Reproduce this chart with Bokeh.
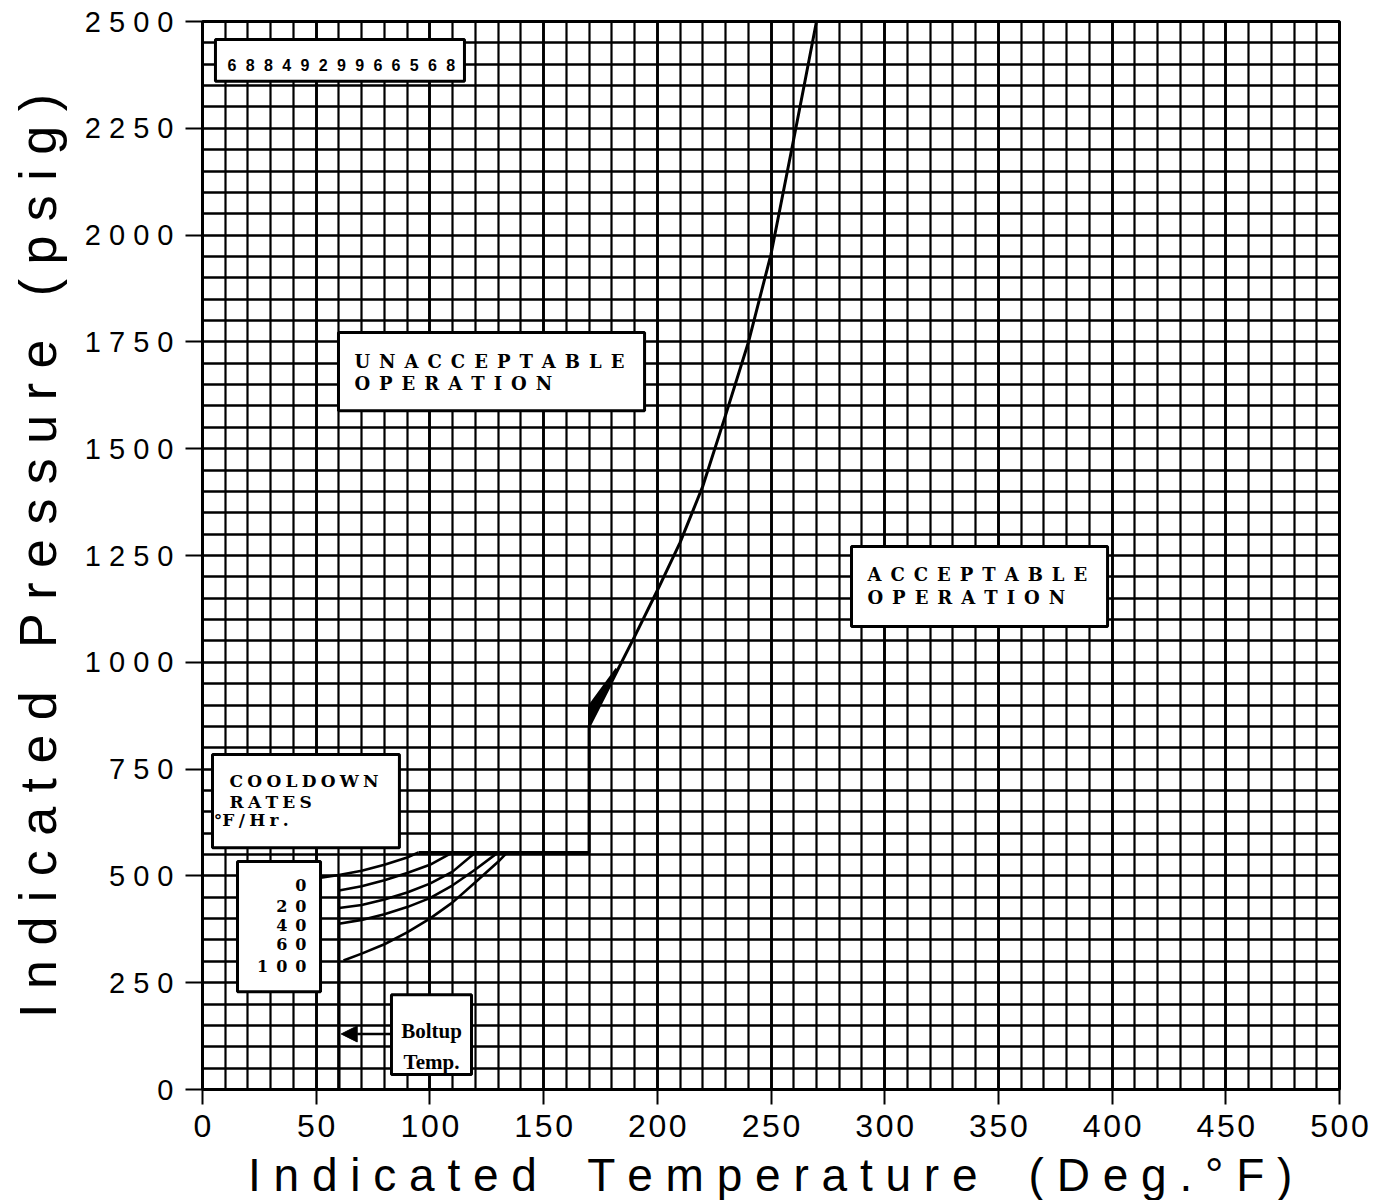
from bokeh.plotting import figure
from bokeh.models import FixedTicker, Range1d, Arrow, NormalHead, Grid
from bokeh.core.properties import value
from bokeh.embed import file_html
from bokeh.resources import INLINE

# ---------------- data ----------------
x_ticks = [0, 50, 100, 150, 200, 250, 300, 350, 400, 450, 500]
y_ticks = [0, 250, 500, 750, 1000, 1250, 1500, 1750, 2000, 2250, 2500]

# heatup / limit curve (plateau, step at 170 F, then rising curve)
limit_temp = [95, 170, 170, 180, 190, 200, 210, 220, 230, 240, 250, 260, 265, 270]
limit_press = [555, 555, 850, 955, 1060, 1168, 1280, 1412, 1578, 1748, 1955, 2225, 2362, 2500]
wedge_temp = [170, 170, 182]
wedge_press = [850, 898, 985]

# cooldown rate curves (deg F / hr)
cooldown_rates = ["0", "20", "40", "60", "100"]
cd0_temp = [52, 60, 70, 80, 90, 95]
cd0_press = [496, 502, 512, 526, 543, 555]
cd20_temp = [60, 70, 80, 90, 100, 110]
cd20_press = [466, 476, 490, 507, 526, 555]
cd40_temp = [60, 70, 80, 90, 100, 110, 120]
cd40_press = [425, 432, 445, 461, 482, 510, 555]
cd60_temp = [60, 70, 80, 90, 100, 110, 120, 130]
cd60_press = [388, 397, 410, 427, 448, 478, 515, 555]
cd100_temp = [62, 70, 80, 90, 100, 110, 120, 130, 134]
cd100_press = [302, 318, 340, 368, 400, 438, 485, 533, 555]

boltup_temp = [60, 60]
boltup_press = [0, 500]

id_code = "6884929966568"

# ---------------- figure ----------------
SANS = "Liberation Sans"
SERIF = "DejaVu Serif"
NB = "\u00a0"


def spaced(s, sep=" "):
    return sep.join(list(s))


def title(words, gap):
    return (" " + NB * gap + " ").join(spaced(w) for w in words)


p = figure(
    frame_width=1137, frame_height=1068,
    min_border_left=202, min_border_top=21, min_border_bottom=108, min_border_right=40,
    x_range=Range1d(0, 500), y_range=Range1d(0, 2500),
    output_backend="svg", toolbar_location=None,
    background_fill_color="white", border_fill_color="white",
)

p.outline_line_color = "black"
p.outline_line_width = 3

# grid
p.xgrid.ticker = FixedTicker(ticks=list(range(0, 501, 10)))
p.xgrid.grid_line_color = "black"
p.xgrid.grid_line_width = 2.2
p.ygrid.ticker = FixedTicker(ticks=list(range(0, 2501, 50)))
p.ygrid.grid_line_color = "black"
p.ygrid.grid_line_width = 2.3
p.add_layout(Grid(dimension=0, ticker=FixedTicker(ticks=x_ticks),
                  grid_line_color="black", grid_line_width=2.8))

# axes
p.xaxis.ticker = FixedTicker(ticks=x_ticks)
p.xaxis.major_label_overrides = {t: spaced(str(t), "\u200a") for t in x_ticks}
p.xaxis.major_label_text_font = SANS
p.xaxis.major_label_text_font_size = "32px"
p.xaxis.major_label_text_color = "black"
p.xaxis.major_label_standoff = 3
p.xaxis.major_tick_out = 15
p.xaxis.major_tick_in = 0
p.xaxis.minor_tick_out = 0
p.xaxis.minor_tick_in = 0
p.xaxis.major_tick_line_width = 2
p.xaxis.major_tick_line_color = "black"
p.xaxis.axis_line_width = 3
p.xaxis.axis_line_color = "black"
p.xaxis.axis_label = title(["Indicated", "Temperature", "(Deg.°F)"], 2)
p.xaxis.axis_label_text_font = SANS
p.xaxis.axis_label_text_font_size = "46px"
p.xaxis.axis_label_text_font_style = "normal"
p.xaxis.axis_label_text_color = "black"
p.xaxis.axis_label_standoff = 2

p.yaxis.ticker = FixedTicker(ticks=y_ticks)
p.yaxis.major_label_overrides = {t: spaced(str(t)) for t in y_ticks}
p.yaxis.major_label_text_font = SANS
p.yaxis.major_label_text_font_size = "29px"
p.yaxis.major_label_text_color = "black"
p.yaxis.major_label_standoff = 12
p.yaxis.major_tick_out = 17
p.yaxis.major_tick_in = 0
p.yaxis.minor_tick_out = 0
p.yaxis.minor_tick_in = 0
p.yaxis.major_tick_line_width = 2
p.yaxis.major_tick_line_color = "black"
p.yaxis.axis_line_width = 3
p.yaxis.axis_line_color = "black"
p.yaxis.axis_label = title(["Indicated", "Pressure", "(psig)"], 1)
p.yaxis.axis_label_text_font = SANS
p.yaxis.axis_label_text_font_size = "52px"
p.yaxis.axis_label_text_font_style = "normal"
p.yaxis.axis_label_text_color = "black"
p.yaxis.axis_label_standoff = 15

# ---------------- curves ----------------
p.line(limit_temp, limit_press, line_color="black", line_width=3)
p.patch(wedge_temp, wedge_press, fill_color="black", line_color="black", line_width=2)
for tx, pr in [(cd0_temp, cd0_press), (cd20_temp, cd20_press), (cd40_temp, cd40_press),
               (cd60_temp, cd60_press), (cd100_temp, cd100_press)]:
    p.line(tx, pr, line_color="black", line_width=2.6)
p.line(boltup_temp, boltup_press, line_color="black", line_width=3.2)

# ---------------- annotation boxes ----------------
def box(l, r, b, t):
    p.quad(left=[l], right=[r], bottom=[b], top=[t], fill_color="white",
           line_color="black", line_width=3)

box(5.7, 115.2, 2360, 2458)      # id box
box(59.8, 194.4, 1589, 1772)     # unacceptable
box(285.4, 398.0, 1084, 1271)    # acceptable
box(4.4, 86.6, 566, 784)         # cooldown rates
box(15.4, 51.9, 229, 534)        # rate values
box(83.1, 118.3, 35, 222)        # boltup

EN = "\u2002"
p.text(x=[11.0], y=[2398], text=[spaced(id_code, "\u2002\u200a")],
       text_font=value(SANS), text_font_style="bold", text_font_size="16px",
       text_baseline="alphabetic", text_align="left", text_color="black")

p.text(x=[66.8, 66.8], y=[1704, 1652],
       text=[spaced("UNACCEPTABLE", EN), spaced("OPERATION", EN)],
       text_font=value(SERIF), text_font_style="bold", text_font_size="18px",
       text_baseline="alphabetic", text_align="left", text_color="black")

p.text(x=[292.4, 292.4], y=[1205, 1152],
       text=[spaced("ACCEPTABLE", EN), spaced("OPERATION", EN)],
       text_font=value(SERIF), text_font_style="bold", text_font_size="18px",
       text_baseline="alphabetic", text_align="left", text_color="black")

p.text(x=[11.9, 11.9], y=[721, 672],
       text=[spaced("COOLDOWN", "\u2005"), spaced("RATES", "\u2005")],
       text_font=value(SERIF), text_font_style="bold", text_font_size="17px",
       text_baseline="alphabetic", text_align="left", text_color="black")
p.text(x=[5.0], y=[630], text=["°F\u2005/\u2005H\u2005r\u2005."],
       text_font=value(SERIF), text_font_style="bold", text_font_size="17px",
       text_baseline="alphabetic", text_align="left", text_color="black")

p.text(x=[45.7] * 5, y=[478, 429, 384, 340, 289],
       text=[spaced(r, EN) for r in cooldown_rates],
       text_font=value(SERIF), text_font_style="bold", text_font_size="16px",
       text_baseline="alphabetic", text_align="right", text_color="black")

p.text(x=[100.7, 100.7], y=[138, 64], text=["Boltup", "Temp."],
       text_font=value("Liberation Serif"), text_font_style="bold", text_font_size="21px",
       text_baseline="alphabetic", text_align="center", text_color="black")

p.add_layout(Arrow(end=NormalHead(size=16, fill_color="black", line_color="black"),
                   x_start=83, y_start=130, x_end=61, y_end=130,
                   line_color="black", line_width=2.5))

open("out.html", "w").write(file_html(p, INLINE))
